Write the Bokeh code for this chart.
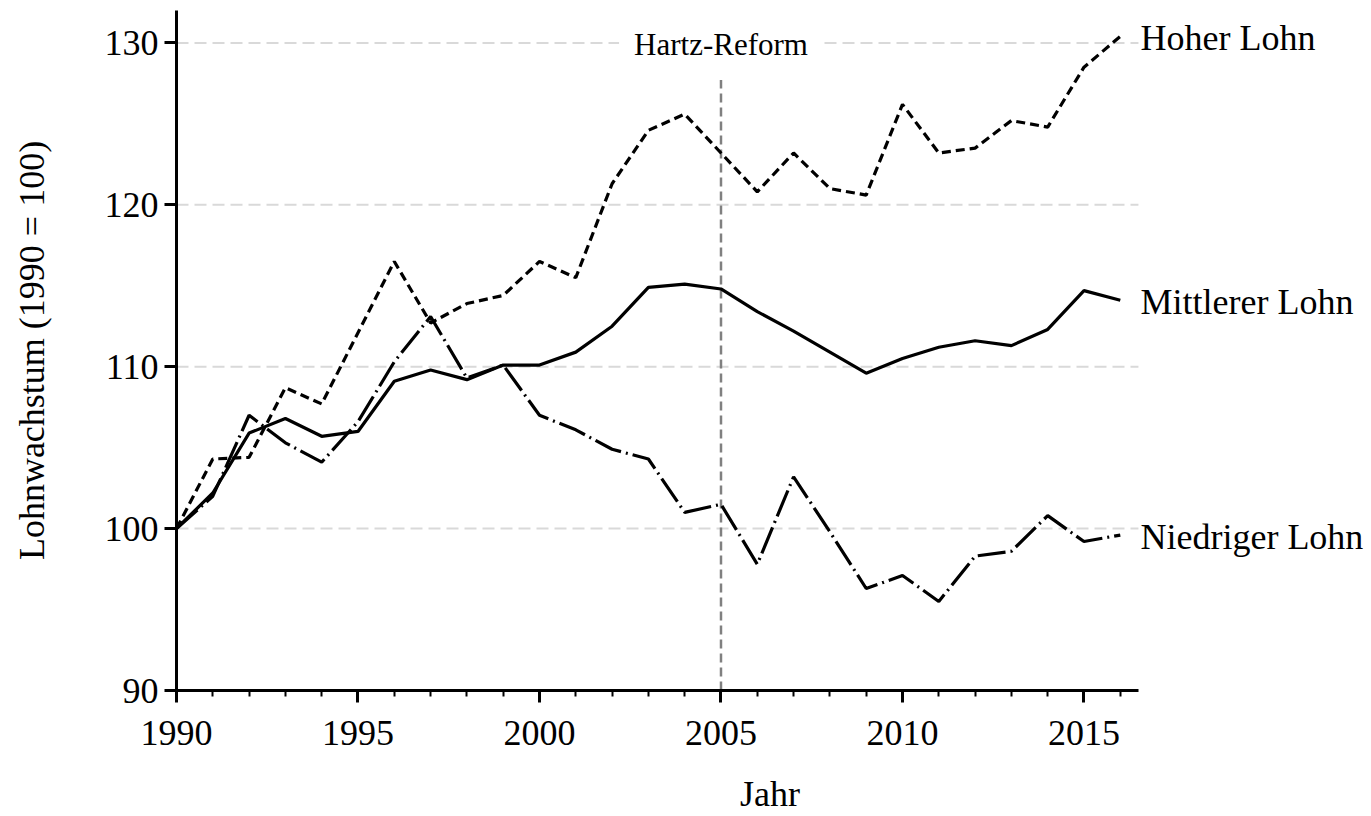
from bokeh.plotting import figure
from bokeh.models import Range1d, FixedTicker, Label
from bokeh.embed import file_html
from bokeh.resources import INLINE

years = list(range(1990, 2017))
hoher = [100, 104.3, 104.4, 108.7, 107.7, 112.1, 116.5, 112.7, 113.9, 114.4, 116.5, 115.5, 121.3,
         124.6, 125.6, 123.2, 120.8, 123.2, 121.0, 120.6, 126.2, 123.2, 123.5, 125.2, 124.8, 128.5, 130.4]
mittlerer = [100, 102.2, 105.9, 106.8, 105.7, 106.0, 109.1, 109.8, 109.2, 110.1, 110.1, 110.9, 112.5,
             114.9, 115.1, 114.8, 113.4, 112.2, 110.9, 109.6, 110.5, 111.2, 111.6, 111.3, 112.3, 114.7, 114.1]
niedriger = [100, 102.0, 107.0, 105.3, 104.1, 106.6, 110.3, 113.1, 109.3, 110.1, 107.0, 106.1, 104.9,
             104.3, 101.0, 101.5, 97.8, 103.2, 99.8, 96.3, 97.1, 95.5, 98.3, 98.6, 100.8, 99.2, 99.6]
series_names = ["Hoher Lohn", "Mittlerer Lohn", "Niedriger Lohn"]
x_ticks = [1990, 1995, 2000, 2005, 2010, 2015]
y_ticks = [90, 100, 110, 120, 130]
reform_year = 2005
reform_text = "Hartz-Reform"
x_title = "Jahr"
y_title = "Lohnwachstum (1990 = 100)"

FONT = "Liberation Serif"
X_END = 2016.5          # end of the drawn x axis
X_VIEW_END = 2022.7     # frame extends to make room for the series labels

p = figure(width=1371, height=816, output_backend="svg", toolbar_location=None,
           x_range=Range1d(1990, X_VIEW_END), y_range=Range1d(90, 132),
           min_border_left=176, min_border_right=8, min_border_top=10, min_border_bottom=126)
p.outline_line_color = None
p.background_fill_color = "white"
p.border_fill_color = "white"

# axes
p.xaxis.ticker = FixedTicker(ticks=x_ticks, minor_ticks=years)
p.yaxis.ticker = FixedTicker(ticks=y_ticks, minor_ticks=[])
p.xaxis.bounds = (1990, X_END)
for ax in (p.xaxis[0], p.yaxis[0]):
    ax.axis_line_color = "black"
    ax.axis_line_width = 3
    ax.major_tick_line_color = "black"
    ax.major_tick_line_width = 3
    ax.major_tick_in = 0
    ax.major_tick_out = 12
    ax.minor_tick_line_color = "black"
    ax.minor_tick_line_width = 2
    ax.minor_tick_in = 0
    ax.minor_tick_out = 6
    ax.major_label_text_font = FONT
    ax.major_label_text_font_size = "36px"
    ax.major_label_text_color = "black"
    ax.major_label_standoff = 6
    ax.axis_label_text_font = FONT
    ax.axis_label_text_font_size = "36px"
    ax.axis_label_text_font_style = "normal"
    ax.axis_label_text_color = "black"
p.xaxis.major_label_standoff = 18
p.yaxis.axis_label = y_title
p.yaxis.axis_label_standoff = 50
p.xaxis.axis_label = x_title
p.xaxis.axis_label_standoff = 26

# grid (drawn only over the axis span)
p.xgrid.grid_line_color = None
p.ygrid.grid_line_color = None
grid_levels = [t for t in y_ticks if t > 90]
p.segment(x0=[1990] * len(grid_levels), y0=grid_levels, x1=[X_END] * len(grid_levels), y1=grid_levels,
          line_color="#d9d9d9", line_width=2, line_dash="12 6")

# reform line
p.segment(x0=[reform_year], y0=[90], x1=[reform_year], y1=[127.7],
          line_color="#808080", line_width=2.5, line_dash="9 5")

# series
p.line(years, mittlerer, line_color="black", line_width=3.2)
p.line(years, hoher, line_color="black", line_width=3.2, line_dash="9 5")
p.line(years, niedriger, line_color="black", line_width=3.2, line_dash="28 5 2 5")

# series labels
for name, vals in zip(series_names, [hoher, mittlerer, niedriger]):
    p.add_layout(Label(x=X_END, y=vals[-1], text=name, x_offset=2, y_offset=-2,
                       text_font=FONT, text_font_size="36px", text_color="black",
                       text_align="left", text_baseline="alphabetic"))

p.add_layout(Label(x=reform_year, y=129.9, text=reform_text, text_font=FONT,
                   text_font_size="31px", text_color="black", text_align="center",
                   text_baseline="alphabetic", background_fill_color="white", padding=15))

open("out.html", "w").write(file_html(p, INLINE))
